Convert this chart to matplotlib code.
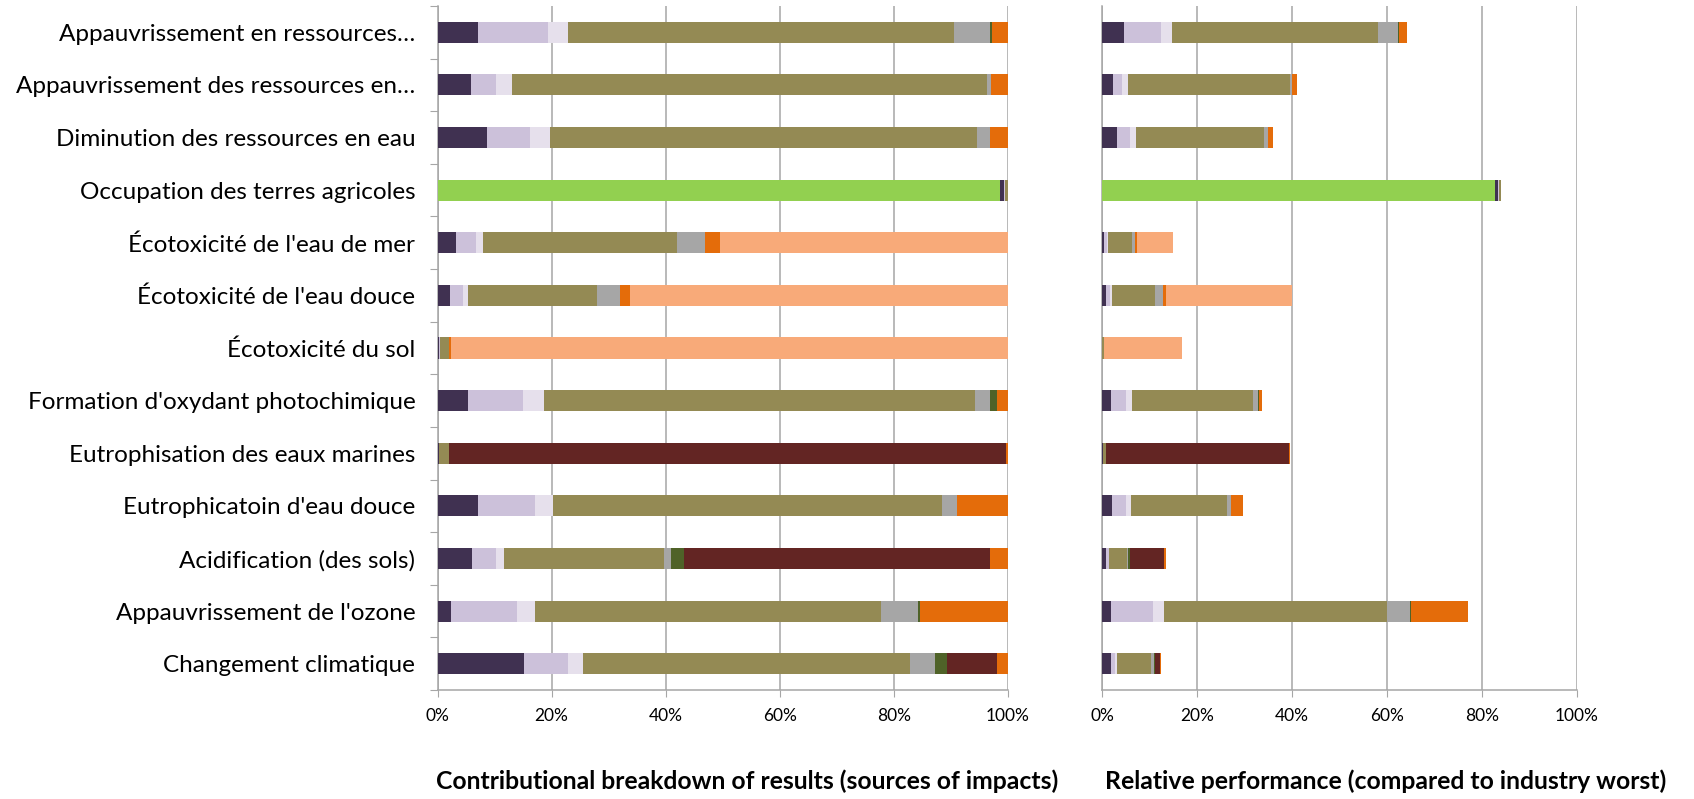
import numpy as np
import matplotlib
matplotlib.use("Agg")
import matplotlib.pyplot as plt
from matplotlib.ticker import PercentFormatter

plt.rcParams['font.family'] = ['Lato', 'DejaVu Sans']

# impact categories, top to bottom
categories = [
    "Appauvrissement en ressources…",
    "Appauvrissement des ressources en…",
    "Diminution des ressources en eau",
    "Occupation des terres agricoles",
    "Écotoxicité de l'eau de mer",
    "Écotoxicité de l'eau douce",
    "Écotoxicité du sol",
    "Formation d'oxydant photochimique",
    "Eutrophisation des eaux marines",
    "Eutrophicatoin d'eau douce",
    "Acidification (des sols)",
    "Appauvrissement de l'ozone",
    "Changement climatique",
]

# contribution shares (%) of each source, same order as categories
light_green  = [0, 0, 0, 98.6, 0, 0, 0, 0, 0, 0, 0, 0, 0]
dark_purple  = [7.1, 5.9, 8.7, 0.7, 3.2, 2.1, 0.3, 5.4, 0.3, 7.1, 6.1, 2.4, 15.1]
lavender     = [12.3, 4.4, 7.5, 0.1, 3.6, 2.4, 0.2, 9.6, 0, 9.9, 4.2, 11.6, 7.7]
pale_lavender = [3.5, 2.8, 3.5, 0, 1.2, 0.9, 0, 3.6, 0, 3.2, 1.4, 3.0, 2.7]
olive        = [67.6, 83.3, 74.9, 0.6, 33.9, 22.6, 1.5, 75.6, 1.7, 68.3, 28.0, 60.7, 57.3]
grey         = [6.4, 0.7, 2.2, 0, 5.0, 3.9, 0, 2.7, 0, 2.5, 1.3, 6.5, 4.4]
dark_green   = [0.3, 0, 0, 0, 0, 0, 0, 1.1, 0, 0, 2.2, 0.3, 2.2]
dark_red     = [0, 0, 0, 0, 0, 0, 0, 0, 97.7, 0, 53.7, 0, 8.7]
orange       = [2.8, 2.9, 3.2, 0, 2.6, 1.8, 0.3, 2.0, 0.3, 9.0, 3.1, 15.5, 1.9]
light_orange = [0, 0, 0, 0, 50.5, 66.3, 97.7, 0, 0, 0, 0, 0, 0]

# relative performance, compared to industry worst (%)
relative_total = [64.3, 41.1, 36.1, 84.0, 15.0, 40.0, 16.8, 33.8, 39.6, 29.8, 13.5, 77.1, 12.5]

series = [
    (light_green, "#92D050"),
    (dark_purple, "#403151"),
    (lavender, "#CCC1DA"),
    (pale_lavender, "#E6E0EC"),
    (olive, "#948A54"),
    (grey, "#A6A6A6"),
    (dark_green, "#4F6228"),
    (dark_red, "#632523"),
    (orange, "#E46C0A"),
    (light_orange, "#F8AA79"),
]

n = len(categories)
y = np.arange(n)
shares = np.array([s for s, c in series], dtype=float)
shares = shares / shares.sum(axis=0) * 100
totals = np.array(relative_total)

fig = plt.figure(figsize=(16.94, 7.99), dpi=100)
ax1 = fig.add_axes([0.2583, 0.1364, 0.3367, 0.8561])
ax2 = fig.add_axes([0.6505, 0.1364, 0.2804, 0.8561])

grid_c = "#A6A6A6"
for ax, vals in ((ax1, shares), (ax2, shares * totals / 100)):
    left = np.zeros(n)
    for (s, c), v in zip(series, vals):
        ax.barh(y, v, left=left, height=0.4, color=c, zorder=3)
        left += v
    ax.set_xlim(0, 100)
    ax.set_ylim(n - 0.5, -0.5)
    ax.set_xticks(np.arange(0, 101, 20))
    ax.xaxis.set_major_formatter(PercentFormatter(decimals=0))
    ax.grid(axis="x", color=grid_c, lw=1.1, zorder=0)
    ax.set_axisbelow(True)
    for sp in ("top", "right"):
        ax.spines[sp].set_visible(False)
    for sp in ("left", "bottom"):
        ax.spines[sp].set_color(grid_c)
        ax.spines[sp].set_linewidth(1.1)
    ax.tick_params(axis="x", length=5, color=grid_c, labelsize=12.5, pad=8)

# category axis: tick marks between bars, labels centred
ax1.set_yticks(np.arange(n + 1) - 0.5)
ax1.set_yticklabels([])
ax1.tick_params(axis="y", which="major", length=6, color=grid_c)
ax1.set_yticks(y, minor=True)
ax1.set_yticklabels(categories, minor=True, fontsize=17.5)
ax1.tick_params(axis="y", which="minor", length=0, pad=16)

ax2.set_yticks([])

fig.text(0.441, 0.008, "Contributional breakdown of results (sources of impacts)",
         ha="center", va="bottom", fontsize=17.8, fontweight="bold")
fig.text(0.818, 0.008, "Relative performance (compared to industry worst)",
         ha="center", va="bottom", fontsize=17.8, fontweight="bold")

fig.savefig("out.png", dpi=100)
